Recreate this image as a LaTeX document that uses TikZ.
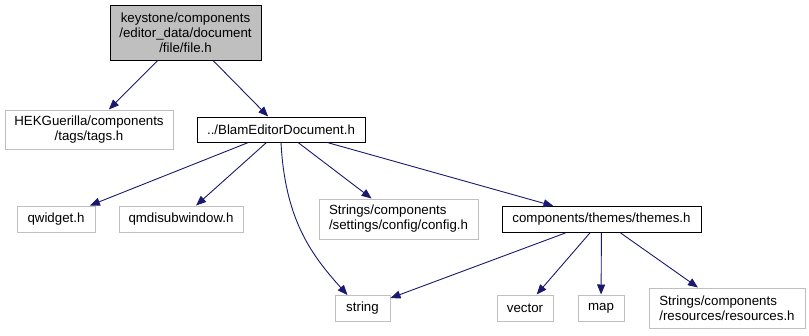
\documentclass[tikz,border=0pt]{standalone}
\usepackage{fontspec}
\setmainfont{Liberation Sans}
\usetikzlibrary{arrows.meta,calc}
\definecolor{edgeblue}{HTML}{191970}
\definecolor{extgray}{HTML}{BFBFBF}
\begin{document}
\begin{tikzpicture}[x=1pt,y=-1pt,
  base/.style={rectangle,inner sep=0pt,line width=1pt,font=\fontsize{13.3}{15}\selectfont},
  ext/.style={base,draw=extgray,fill=white},
  intl/.style={base,draw=black,fill=white},
  cur/.style={base,draw=black,fill=extgray},
  dep/.style={draw=edgeblue,line width=0.9pt,-{Triangle[length=10pt,width=8pt]}}]
\useasboundingbox (0,0) rectangle (809,335);
\node[cur,minimum width=151pt,minimum height=55pt,align=center] (top) at (185.5,32.5) {keystone/components\\/editor\_data/document\\/file/file.h};
\node[ext,minimum width=168pt,minimum height=39pt,align=center] (hek) at (89,129.5) {HEKGuerilla/components\\/tags/tags.h};
\node[intl,minimum width=168pt,minimum height=25pt] (blam) at (281,129.5) {../BlamEditorDocument.h};
\node[ext,minimum width=78pt,minimum height=26pt] (qwidget) at (56,219) {qwidget.h};
\node[ext,minimum width=124pt,minimum height=26pt] (qmdi) at (181,219) {qmdisubwindow.h};
\node[ext,minimum width=159pt,minimum height=40pt,align=left] (config) at (398.5,219) {Strings/components\\/settings/config/config.h};
\node[ext,minimum width=55pt,minimum height=26pt] (string) at (362.5,308.5) {string};
\node[intl,minimum width=199pt,minimum height=26pt] (themes) at (601.5,219.5) {components/themes/themes.h};
\node[ext,minimum width=56pt,minimum height=26pt] (vector) at (525,308) {vector};
\node[ext,minimum width=46pt,minimum height=26pt] (map) at (601,308) {map};
\node[ext,minimum width=156pt,minimum height=40pt,align=left] (res) at (727,308) {Strings/components\\/resources/resources.h};
\draw[dep] (top) -- (hek);
\draw[dep] (top) -- (blam);
\draw[dep] (blam) -- (qwidget);
\draw[dep] (blam) -- (qmdi);
\draw[dep] (blam.south) .. controls +(4,75) and +(-38,-42) .. ($(string.north west)+(13,0)$);
\draw[dep] (blam) -- (config);
\draw[dep] (blam) -- (themes);
\draw[dep] (themes) -- (string);
\draw[dep] (themes) -- (vector);
\draw[dep] (themes) -- (map);
\draw[dep] (themes) -- (res);
\end{tikzpicture}
\end{document}
